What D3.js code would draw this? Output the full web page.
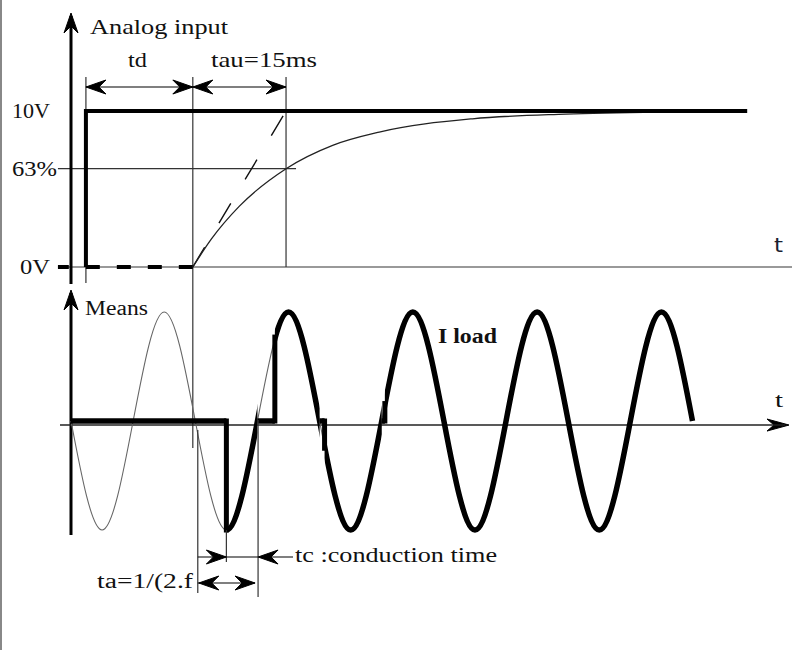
<!DOCTYPE html>
<html><head><meta charset="utf-8">
<script src="https://cdn.jsdelivr.net/npm/d3@7"></script>
<style>html,body{margin:0;padding:0;background:#fff;} svg{display:block;}</style>
</head><body>
<svg id="c" width="792" height="650"></svg>
<script>
// ---------------- data (time in ms, voltage in V, current normalised) ----------------
const voltLabels = ["10V", "63%", "0V"];
const voltValues = [10, 6.3, 0];
const stepTime = 2.4;        // rising edge of the analog input
const delayEnd = 19.6;       // end of td
const tauMs = 15;            // tau = 15 ms
const inputEnd = 108.8;      // end of the 10V line
const responseT = [0, 3, 7.5, 15, 22.5, 30, 45, 60, 75];          // ms after td
const responseV = [0, 1.8, 3.9, 6.3, 7.8, 8.65, 9.5, 9.8, 9.93];  // V
const tangentT = [0, 15];
const tangentV = [0, 10];
const mainsT = [0, 5, 10, 15, 20, 25, 30, 35, 40, 45, 50, 55, 60, 65, 70, 75, 80, 85, 90, 95, 100];
const mainsI = [0, -1, 0, 1, 0, -1, 0, 1, 0, -1, 0, 1, 0, -1, 0, 1, 0, -1, 0, 1, 0];
const flatStart = [0, 30, 40, 50];        // current stays at zero from here ...
const fireT = [25, 32.8, 40.8, 50.5];     // ... until the triac fires here
const fireI = [-1, 0.77, -0.25, 0.16];    // current right after firing
const loadEnd = 100;
const taSpan = [20.4, 30.1];
const tcSpan = [25, 30.1];

// ---------------- scales ----------------
const svg = d3.select("#c");
const x = d3.scaleLinear().domain([0, 100]).range([71, 692.5]);
const yV = d3.scaleLinear().domain([0, 10]).range([267, 111]);
const yI = d3.scaleLinear().domain([-1, 1]).range([530, 312]);
const serif = "'Liberation Serif','Times New Roman',serif";

function head(g, px, py, angle, L = 20, W = 7, N = 13) {
  g.append("path")
    .attr("d", `M0,0L${-L},${-W}L${-N},0L${-L},${W}Z`)
    .attr("transform", `translate(${px},${py}) rotate(${angle})`)
    .attr("fill", "#000").attr("stroke", "#000").attr("stroke-width", 1).attr("stroke-linejoin", "miter");
}
function line(x1, y1, x2, y2, w, col = "#000", dash = null) {
  const l = svg.append("line").attr("x1", x1).attr("y1", y1).attr("x2", x2).attr("y2", y2)
    .attr("stroke", col).attr("stroke-width", w);
  if (dash) l.attr("stroke-dasharray", dash);
  return l;
}
function text(s, tx, ty, len, size = 21, weight = "normal", fam = serif) {
  return svg.append("text").attr("x", tx).attr("y", ty).text(s)
    .attr("font-family", fam).attr("font-size", size).attr("font-weight", weight)
    .attr("fill", "#111").attr("textLength", len).attr("lengthAdjust", "spacingAndGlyphs");
}

// left border
line(1, 0, 1, 650, 2, "#888");

// ---------------- top panel: analog input ----------------
line(x(-2.1), yV(0), 792, yV(0), 1.5, "#777");                  // 0V line
line(x(-2.1), yV(6.3), x(delayEnd + tauMs) + 10, yV(6.3), 1.2, "#333");  // 63% line
line(x(stepTime), 77, x(stepTime), 283, 1.2, "#333");
line(x(delayEnd), 77, x(delayEnd), 448, 1.2, "#333");
line(x(delayEnd + tauMs), 77, x(delayEnd + tauMs), yV(0), 1.2, "#333");

// dashed zero before the response starts
line(x(delayEnd), yV(0), x(-2.1), yV(0), 4, "#000", "14,17");

// tangent
const tan = tangentT.map((t, i) => [delayEnd + t, tangentV[i]]);
svg.append("path").attr("d", d3.line().x(d => x(d[0])).y(d => yV(d[1]))(tan))
  .attr("fill", "none").attr("stroke", "#111").attr("stroke-width", 1.4).attr("stroke-dasharray", "23,28");

// exponential response
const resp = responseT.map((t, i) => [delayEnd + t, responseV[i]]);
svg.append("path").attr("d", d3.line().x(d => x(d[0])).y(d => yV(d[1])).curve(d3.curveMonotoneX)(resp))
  .attr("fill", "none").attr("stroke", "#222").attr("stroke-width", 1.3);

// step input
const step = [[stepTime, 0], [stepTime, 10], [inputEnd, 10]];
svg.append("path").attr("d", d3.line().x(d => x(d[0])).y(d => yV(d[1]))(step))
  .attr("fill", "none").attr("stroke", "#000").attr("stroke-width", 4).attr("stroke-linejoin", "miter");

// td / tau arrows
const gA = svg.append("g");
line(x(stepTime), 87, x(delayEnd + tauMs), 87, 1.2, "#000");
head(gA, x(stepTime), 87, 180);
head(gA, x(delayEnd), 87, 0);
head(gA, x(delayEnd), 87, 180);
head(gA, x(delayEnd + tauMs), 87, 0);

// y axis (top)
line(x(0), 16, x(0), 284, 3);
head(gA, x(0), 13, -90);

// voltage labels via a d3 axis
const axV = svg.append("g").attr("transform", `translate(${x(0)},0)`)
  .call(d3.axisLeft(yV).tickValues(voltValues).tickFormat((d, i) => voltLabels[i]).tickSize(0).tickPadding(21));
axV.select(".domain").remove();
axV.selectAll("text").attr("font-family", serif).attr("font-size", 21).attr("fill", "#111")
  .attr("dy", "0.3em")
  .attr("textLength", (d, i) => [38, 45, 30][i]).attr("lengthAdjust", "spacingAndGlyphs")
  .attr("x", (d, i) => i === 1 ? -14 : -21);

text("Analog  input", 90, 34, 138, 21.5);
text("td", 128, 67, 19);
text("tau=15ms", 211, 67, 106);
text("t", 774, 252, 9, 20, "normal", "'DejaVu Sans',sans-serif").attr("fill", "#1a2030");

// ---------------- bottom panel: mains / load current ----------------
line(x(0), 293, x(0), 535, 3);
head(gA, x(0), 290, -90);
line(60, yI(-0.037), 785, yI(-0.037), 1.5, "#222");
head(gA, 789, yI(-0.037), 0, 22, 6, 15);

const mains = mainsT.map((t, i) => [t, mainsI[i]]);
const sineLine = d3.line().x(d => x(d[0])).y(d => yI(d[1])).curve(d3.curveNatural);
svg.append("path").attr("d", sineLine(mains))
  .attr("fill", "none").attr("stroke", "#666").attr("stroke-width", 1.1);

// conduction windows
const defs = svg.append("defs");
fireT.forEach((t, i) => {
  const end = i < flatStart.length - 1 ? flatStart[i + 1] : loadEnd;
  const id = "cw" + i;
  defs.append("clipPath").attr("id", id).append("rect")
    .attr("x", x(t)).attr("y", 280).attr("width", x(end) - x(t) + (i === fireT.length - 1 ? 6 : 0)).attr("height", 280);
  svg.append("path").attr("d", sineLine(mains)).attr("clip-path", `url(#${id})`)
    .attr("fill", "none").attr("stroke", "#000").attr("stroke-width", 5.5);
});
flatStart.forEach((t, i) => {
  line(x(t), yI(0), x(fireT[i]), yI(0), 5.5);
  line(x(fireT[i]), yI(0), x(fireT[i]), yI(fireI[i]), 5).attr("stroke-linecap", "square");
});

// ta / tc construction lines
line(x(taSpan[0]), 430, x(taSpan[0]), 593, 1.2, "#333");
line(x(tcSpan[0]), yI(-1), x(tcSpan[0]), 562, 1.2, "#333");
line(x(taSpan[1]), 420, x(taSpan[1]), 597, 1.2, "#333");
line(x(taSpan[0]), 557, 293, 557, 1.2, "#000");
head(gA, x(tcSpan[0]), 557, 0);
head(gA, x(tcSpan[1]), 557, 180);
line(x(taSpan[0]), 583, x(taSpan[1]) - 3, 583, 1.2, "#000");
head(gA, x(taSpan[0]) + 1, 583, 180);
head(gA, x(taSpan[1]) - 3, 583, 0);

text("Means", 85, 315, 63, 20.5);
text("I load", 438, 343, 59, 21.5, "bold");
text("t", 775, 407, 8, 20);
text("tc  :conduction  time", 295, 562, 202, 20.5);
text("ta=1/(2.f", 97, 588, 96, 20.5);
</script>
</body></html>
